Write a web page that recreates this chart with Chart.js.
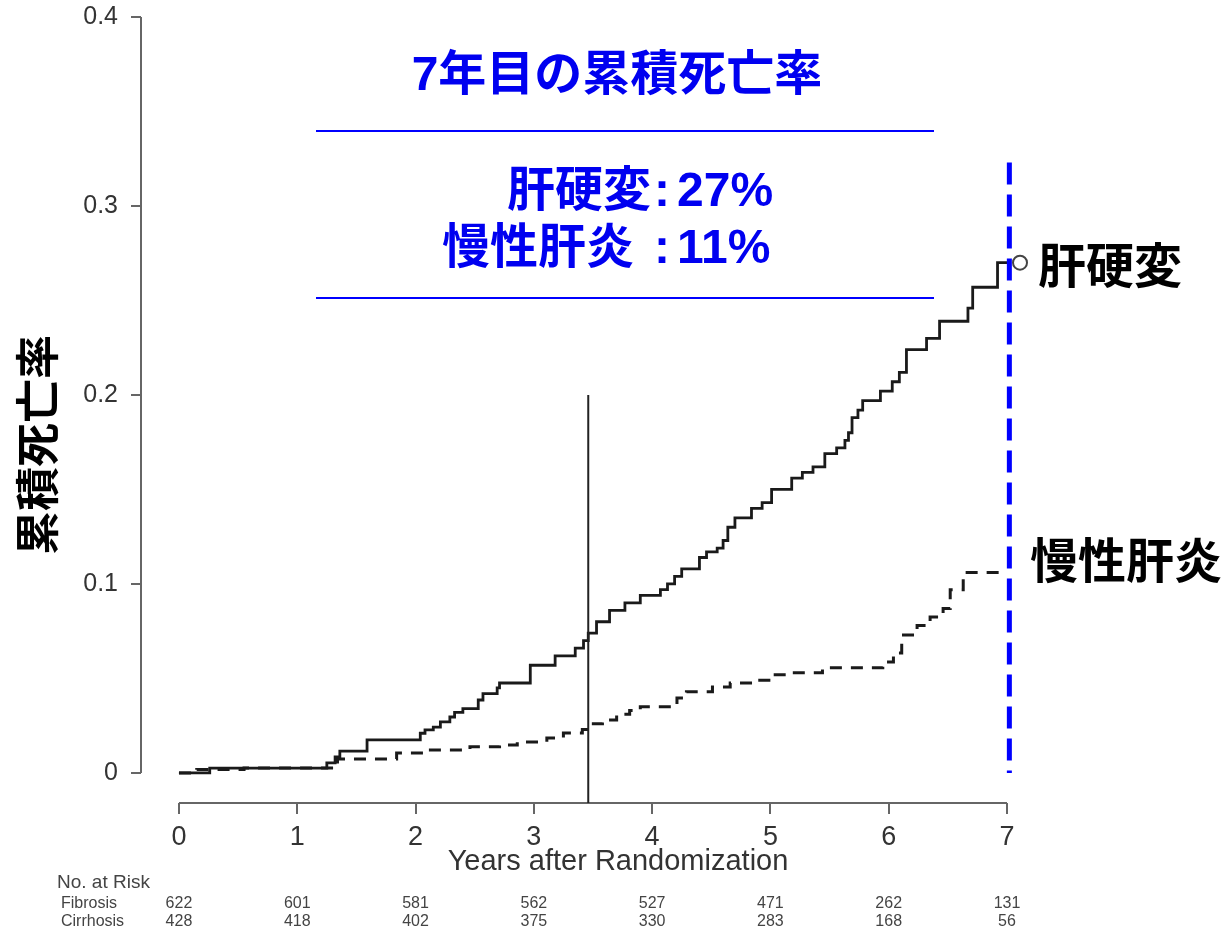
<!DOCTYPE html>
<html>
<head>
<meta charset="utf-8">
<script src="https://cdn.jsdelivr.net/npm/chart.js@4"></script>
<style>
body { margin: 0; background: #fff; }
#wrap { width: 1227px; height: 931px; position: relative; }
</style>
</head>
<body>
<div id="wrap"><canvas id="kmChart"></canvas></div>
<script>
// 肝硬変 (solid line)
const cirrhosisYears = [0, 0.26, 1.25, 1.32, 1.36, 1.59, 2.04, 2.08, 2.15, 2.21, 2.29, 2.33, 2.40, 2.53, 2.57, 2.69, 2.71,
    2.97, 3.18, 3.35, 3.42, 3.46, 3.53, 3.64, 3.77, 3.90, 4.07, 4.13, 4.19, 4.25, 4.40, 4.46, 4.55, 4.60, 4.64, 4.70,
    4.84, 4.93, 5.01, 5.18, 5.27, 5.36, 5.46, 5.56, 5.63, 5.66, 5.69, 5.74, 5.78, 5.93, 6.03, 6.09, 6.15, 6.32, 6.43,
    6.67, 6.71, 6.92, 7.0];
const cirrhosisRate = [0, 0.0026, 0.0053, 0.0085, 0.0116, 0.0175, 0.021, 0.0228, 0.0243, 0.027, 0.0296, 0.032, 0.034,
    0.0386, 0.042, 0.045, 0.0476, 0.057, 0.062, 0.066, 0.070, 0.074, 0.080, 0.086, 0.090, 0.094, 0.097, 0.100, 0.104,
    0.108, 0.114, 0.117, 0.119, 0.123, 0.130, 0.135, 0.140, 0.143, 0.150, 0.156, 0.159, 0.162, 0.169, 0.172, 0.176,
    0.180, 0.188, 0.192, 0.197, 0.202, 0.207, 0.212, 0.224, 0.230, 0.239, 0.246, 0.257, 0.270, 0.270];

// 慢性肝炎 (dashed line)
const hepatitisYears = [0, 0.15, 0.55, 1.31, 1.34, 1.84, 2.10, 2.46, 2.71, 2.86, 3.11, 3.25, 3.41, 3.49, 3.58, 3.70,
    3.81, 3.90, 4.21, 4.29, 4.51, 4.66, 4.91, 5.02, 5.14, 5.44, 5.95, 6.04, 6.11, 6.24, 6.35, 6.46, 6.52, 6.63, 7.0];
const hepatitisRate = [0, 0.0018, 0.0026, 0.0058, 0.0074, 0.0106, 0.0122, 0.0138, 0.0148, 0.0164, 0.0185, 0.0212,
    0.023, 0.026, 0.028, 0.031, 0.033, 0.035, 0.0397, 0.043, 0.0455, 0.0476, 0.049, 0.052, 0.053, 0.0556, 0.0587,
    0.0635, 0.073, 0.078, 0.0825, 0.087, 0.097, 0.106, 0.106];

const xTicks = [0, 1, 2, 3, 4, 5, 6, 7];
const yTicks = [0, 0.1, 0.2, 0.3, 0.4];

const riskLabels = ['Fibrosis', 'Cirrhosis'];
const riskFibrosis = [622, 601, 581, 562, 527, 471, 262, 131];
const riskCirrhosis = [428, 418, 402, 375, 330, 283, 168, 56];

const censorYear = [7.11];
const censorRate = [0.270];

const markerYear = 3.46;   // 縦の実線
const markerTop = 0.2;
const cutoffYear = 7.02;   // 7年目の青い破線
const cutoffTop = 0.323;

const latin = '"Liberation Sans", Arial, sans-serif';
const cjk = '"Liberation Sans", "Noto Sans CJK JP", sans-serif';

function toPoints(xs, ys) {
    return xs.map(function (x, i) {
        return { x: x, y: ys[i] };
    });
}

const annotations = {
    id: 'annotations',
    afterDatasetsDraw(chart) {
        const ctx = chart.ctx;
        const x = chart.scales.x;
        const y = chart.scales.y;
        ctx.save();

        // axis lines (R style, only over the tick range)
        ctx.strokeStyle = '#666';
        ctx.lineWidth = 2;
        ctx.beginPath();
        ctx.moveTo(x.left, y.getPixelForValue(0));
        ctx.lineTo(x.left, y.getPixelForValue(0.4));
        ctx.moveTo(x.getPixelForValue(0), y.bottom);
        ctx.lineTo(x.getPixelForValue(7), y.bottom);
        ctx.stroke();

        // vertical black line
        ctx.strokeStyle = '#222';
        ctx.lineWidth = 2;
        ctx.beginPath();
        ctx.moveTo(x.getPixelForValue(markerYear), y.getPixelForValue(markerTop));
        ctx.lineTo(x.getPixelForValue(markerYear), y.bottom);
        ctx.stroke();

        // blue dashed cutoff
        ctx.strokeStyle = '#0000ff';
        ctx.lineWidth = 5;
        ctx.setLineDash([22, 10]);
        ctx.beginPath();
        ctx.moveTo(x.getPixelForValue(cutoffYear), y.getPixelForValue(cutoffTop));
        ctx.lineTo(x.getPixelForValue(cutoffYear), y.getPixelForValue(0));
        ctx.stroke();
        ctx.setLineDash([]);

        // text box
        ctx.fillStyle = '#0000f0';
        ctx.textBaseline = 'middle';
        ctx.font = 'bold 48px ' + cjk;
        ctx.textAlign = 'center';
        ctx.fillText('7年目の累積死亡率', 617, 77);
        ctx.textAlign = 'right';
        ctx.fillText('肝硬変', 651, 193);
        ctx.fillText('慢性肝炎', 634, 250);
        ctx.textAlign = 'center';
        ctx.fillText(':', 662, 193);
        ctx.fillText(':', 662, 250);
        ctx.textAlign = 'left';
        ctx.fillText('27%', 677, 193);
        ctx.fillText('11%', 677, 250);

        ctx.strokeStyle = '#0000ff';
        ctx.lineWidth = 2;
        ctx.beginPath();
        ctx.moveTo(316, 131); ctx.lineTo(934, 131);
        ctx.moveTo(316, 298); ctx.lineTo(934, 298);
        ctx.stroke();

        // curve labels
        ctx.fillStyle = '#000';
        ctx.font = 'bold 48px ' + cjk;
        ctx.textAlign = 'left';
        ctx.fillText('肝硬変', 1038, 270);
        ctx.fillText('慢性肝炎', 1030, 565);

        // y axis title
        ctx.save();
        ctx.translate(42, 445);
        ctx.rotate(-Math.PI / 2);
        ctx.textAlign = 'center';
        ctx.font = 'bold 44px ' + cjk;
        ctx.fillText('累積死亡率', 0, 0);
        ctx.restore();

        // x axis title
        ctx.fillStyle = '#333';
        ctx.font = '29px ' + latin;
        ctx.textAlign = 'center';
        ctx.fillText('Years after Randomization', 618, 862);

        // numbers at risk
        ctx.fillStyle = '#444';
        ctx.font = '19px ' + latin;
        ctx.textAlign = 'left';
        ctx.fillText('No. at Risk', 57, 883);
        ctx.font = '16px ' + latin;
        ctx.fillText(riskLabels[0], 61, 904);
        ctx.fillText(riskLabels[1], 61, 922);
        ctx.textAlign = 'center';
        xTicks.forEach(function (t, i) {
            const px = x.getPixelForValue(t);
            ctx.fillText(String(riskFibrosis[i]), px, 904);
            ctx.fillText(String(riskCirrhosis[i]), px, 922);
        });

        ctx.restore();
    }
};

const ctx = document.getElementById('kmChart').getContext('2d');
const kmChart = new Chart(ctx, {
    type: 'line',
    data: {
        datasets: [
            {
                label: '肝硬変',
                data: toPoints(cirrhosisYears, cirrhosisRate),
                borderColor: '#1a1a1a',
                borderWidth: 2.8,
                stepped: true,
                pointRadius: 0,
                fill: false
            },
            {
                label: '慢性肝炎',
                data: toPoints(hepatitisYears, hepatitisRate),
                borderColor: '#1a1a1a',
                borderWidth: 3,
                borderDash: [12, 9],
                stepped: true,
                pointRadius: 0,
                fill: false
            },
            {
                label: 'censored',
                data: toPoints(censorYear, censorRate),
                showLine: false,
                pointRadius: 7,
                pointBorderWidth: 2,
                pointBorderColor: '#444',
                pointBackgroundColor: '#fff'
            }
        ]
    },
    options: {
        responsive: true,
        maintainAspectRatio: false,
        animation: false,
        layout: { padding: { left: 0, top: 17, right: 132, bottom: 0 } },
        plugins: {
            legend: { display: false },
            tooltip: { enabled: false }
        },
        scales: {
            x: {
                type: 'linear',
                min: -0.321,
                max: 7.744,
                afterBuildTicks: function (scale) {
                    scale.ticks = xTicks.map(function (v) { return { value: v }; });
                },
                afterFit: function (scale) {
                    scale.height = 931 - 803;
                    scale.paddingLeft = 0;
                    scale.paddingRight = 0;
                },
                border: { display: false },
                grid: { drawOnChartArea: false, drawTicks: true, tickLength: 11, color: '#666', lineWidth: 2 },
                ticks: {
                    autoSkip: false,
                    maxRotation: 0,
                    padding: 7,
                    color: '#333',
                    font: { family: latin, size: 27 },
                    callback: function (v) { return String(v); }
                }
            },
            y: {
                min: -0.0159,
                max: 0.4,
                afterBuildTicks: function (scale) {
                    scale.ticks = yTicks.map(function (v) { return { value: v }; });
                },
                afterFit: function (scale) {
                    scale.width = 141;
                    scale.paddingTop = 0;
                    scale.paddingBottom = 0;
                },
                border: { display: false },
                grid: { drawOnChartArea: false, drawTicks: true, tickLength: 10, color: '#666', lineWidth: 2 },
                ticks: {
                    padding: 13,
                    color: '#333',
                    font: { family: latin, size: 25 },
                    callback: function (v) { return v === 0 ? '0' : v.toFixed(1); }
                }
            }
        }
    },
    plugins: [annotations]
});
</script>
</body>
</html>
